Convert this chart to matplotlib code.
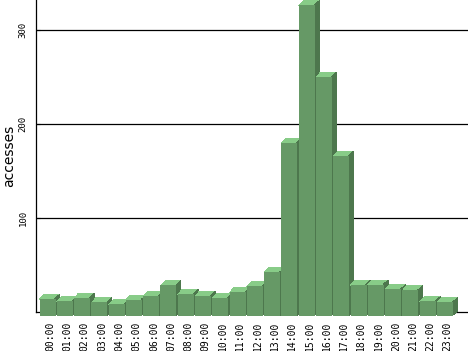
import matplotlib
matplotlib.use("Agg")
import matplotlib.pyplot as plt
from matplotlib.patches import Polygon

hours = ["%02d:00" % h for h in range(24)]
accesses = [19, 16, 20, 15, 13, 18, 22, 33, 24, 22, 20, 26,
            32, 47, 185, 331, 255, 171, 34, 34, 29, 28, 16, 15]

front_col = "#669966"
top_col = "#88cc88"
side_col = "#4d774d"

W, H = 468, 351
fig = plt.figure(figsize=(W / 100, H / 100), dpi=100)
# axes box in pixels: left 36, right 468, top 0, bottom 312
ax = fig.add_axes([36 / W, (H - 312) / H, 432 / W, 312 / H])

slot = 17.28          # px per hour
ppv = 0.94            # px per access
x0 = (36 - 52) / slot
ax.set_xlim(x0, x0 + 432 / slot)
ax.set_ylim(0, 312 / ppv)

# depth of the 3d effect, in data units
dx = 4.5 / slot
dy = 4.5 / ppv
bw = 16 / slot
eps = 0.6 / slot

for i, v in enumerate(accesses):
    z = 3 + i * 0.01
    fl = i - dx - bw / 2
    fr = i - dx + bw / 2
    ft = v - dy
    fb = -3.5 / ppv
    ax.add_patch(Polygon([(fl, ft - 0.5), (fr, ft - 0.5), (fr + dx, v), (fl + dx, v)],
                         closed=True, color=top_col, lw=0, zorder=z,
                         clip_on=False, antialiased=False))
    ax.add_patch(Polygon([(fr - eps, ft), (fr + dx, v), (fr + dx, fb + dy), (fr - eps, fb)],
                         closed=True, color=side_col, lw=0, zorder=z,
                         clip_on=False, antialiased=False))
    ax.bar(fl, ft - fb, width=bw, bottom=fb, align="edge", color=front_col,
           linewidth=0, zorder=z + 0.001, clip_on=False, antialiased=False)

ax.set_yticks([100, 200, 300])
ax.yaxis.grid(True, color="black", linewidth=0.9, zorder=1)
ax.set_axisbelow(True)
ax.set_xticks([i - 0.1 for i in range(24)])
ax.set_xticklabels(hours, rotation=90, family="DejaVu Sans Mono", fontsize=7)
ax.set_yticklabels(["100", "200", "300"], rotation=90, va="center",
                   family="DejaVu Sans Mono", fontsize=6.5)
ax.tick_params(axis="x", length=0, pad=7)
ax.tick_params(axis="y", direction="in", length=3, width=0.8, pad=6)
ax.set_ylabel("accesses", fontsize=10, labelpad=2)

for s in ["top", "right"]:
    ax.spines[s].set_visible(False)
ax.spines["left"].set_linewidth(0.9)
ax.spines["bottom"].set_linewidth(0.9)

fig.savefig("out.png", dpi=100)
